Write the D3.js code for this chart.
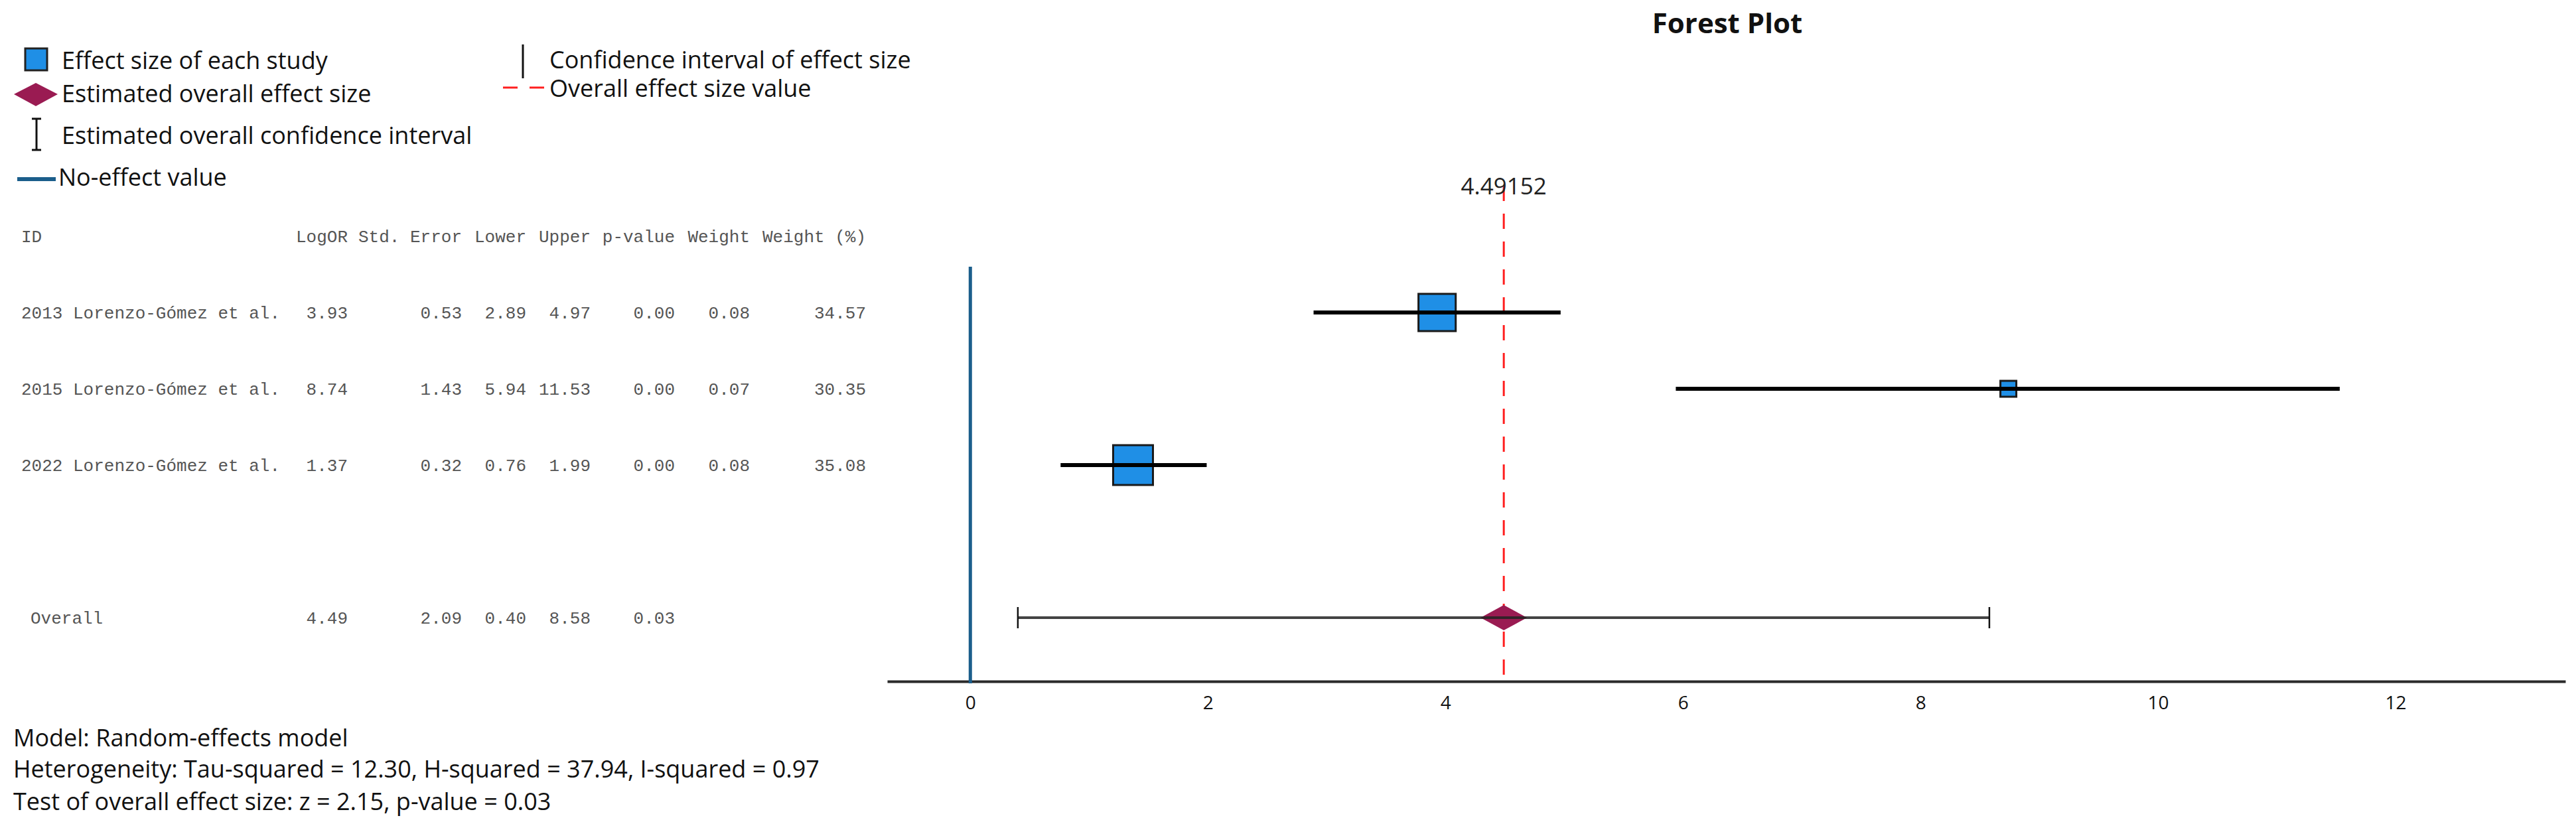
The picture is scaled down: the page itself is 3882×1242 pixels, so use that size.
<!DOCTYPE html>
<html>
<head>
<meta charset="utf-8">
<script src="https://cdn.jsdelivr.net/npm/d3@7/dist/d3.min.js"></script>
<style>
html,body{margin:0;padding:0;background:#fff;}
svg{display:block;}
</style>
</head>
<body>
<script>
// ---------------- data ----------------
const studies = ["2013 Lorenzo-Gómez et al.", "2015 Lorenzo-Gómez et al.", "2022 Lorenzo-Gómez et al."];
const logOR = [3.93, 8.74, 1.37];
const stdError = [0.53, 1.43, 0.32];
const lowerCI = [2.89, 5.94, 0.76];
const upperCI = [4.97, 11.53, 1.99];
const pValues = [0.00, 0.00, 0.00];
const weights = [0.08, 0.07, 0.08];
const weightPct = [34.57, 30.35, 35.08];
const overallLabel = "Overall";
const overallValues = [4.49, 2.09, 0.40, 8.58, 0.03]; // LogOR, SE, Lower, Upper, p
const overallEstimate = 4.49152;
const columnHeaders = ["LogOR", "Std. Error", "Lower", "Upper", "p-value", "Weight", "Weight (%)"];
const xTicks = [0, 2, 4, 6, 8, 10, 12];
const xDomain = [-0.7, 13.43];
const noEffectValue = 0;
const legendLeft = ["Effect size of each study", "Estimated overall effect size", "Estimated overall confidence interval", "No-effect value"];
const legendRight = ["Confidence interval of effect size", "Overall effect size value"];
const summaryLines = [
  "Model: Random-effects model",
  "Heterogeneity: Tau-squared = 12.30, H-squared = 37.94, I-squared = 0.97",
  "Test of overall effect size: z = 2.15, p-value = 0.03"
];
const titleText = "Forest Plot";

// ---------------- layout ----------------
const W = 3882, H = 1242;
const sans = "'Open Sans', 'Noto Sans', sans-serif";
const mono = "'Liberation Mono', 'DejaVu Sans Mono', monospace";
const svg = d3.select("body").append("svg").attr("width", W).attr("height", H);
svg.append("rect").attr("width", W).attr("height", H).attr("fill", "#fff");

const x = d3.scaleLinear().domain(xDomain).range([1337, 3866]);
const y = d3.scaleLinear().domain([0, 4]).range([471, 931]); // row slots: 3 studies, gap, overall
const axisY = 1027;
const sizeScale = d3.scaleLinear().domain(d3.extent(weightPct)).range([24, 60]);

const blue = "#1f8fe6", maroon = "#9a1b52", noEffectColor = "#1b5e8b", red = "#ff1f1f";

// ---------------- title ----------------
svg.append("text").attr("x", 2603).attr("y", 50).attr("text-anchor", "middle")
  .attr("font-family", sans).attr("font-weight", 700).attr("font-size", 42).attr("fill", "#111")
  .text(titleText);

// ---------------- legend ----------------
const lg = svg.append("g").attr("font-family", sans).attr("font-size", 36).attr("fill", "#111");
lg.append("rect").attr("x", 38).attr("y", 73).attr("width", 33).attr("height", 33)
  .attr("fill", blue).attr("stroke", "#222").attr("stroke-width", 3);
lg.append("path").attr("d", "M21,142 L54,125 L87,142 L54,160 Z").attr("fill", maroon);
lg.append("path").attr("d", "M48,179 H62 M55,179 V226 M48,226 H62").attr("stroke", "#111").attr("stroke-width", 3).attr("fill", "none");
lg.append("line").attr("x1", 26).attr("x2", 84).attr("y1", 270).attr("y2", 270).attr("stroke", noEffectColor).attr("stroke-width", 6);
const leftBase = [104, 154, 217, 280];
const leftX = [93, 93, 93, 88];
lg.selectAll("text.ll").data(legendLeft).join("text").attr("class", "ll")
  .attr("x", (d, i) => leftX[i]).attr("y", (d, i) => leftBase[i]).text(d => d);
lg.append("line").attr("x1", 788).attr("x2", 788).attr("y1", 67).attr("y2", 118).attr("stroke", "#111").attr("stroke-width", 3);
lg.append("line").attr("x1", 758).attr("x2", 820).attr("y1", 132).attr("y2", 132).attr("stroke", red).attr("stroke-width", 3).attr("stroke-dasharray", "22,18");
const rightBase = [103, 146];
lg.selectAll("text.rl").data(legendRight).join("text").attr("class", "rl")
  .attr("x", 828).attr("y", (d, i) => rightBase[i]).text(d => d);

// ---------------- table ----------------
const tg = svg.append("g").attr("font-family", mono).attr("font-size", 26).attr("fill", "#555");
const colRight = [524, 696, 793, 890, 1017, 1130, 1305];
const headerY = y(-1) + 9;
tg.append("text").attr("x", 32).attr("y", headerY).text("ID");
tg.selectAll("text.hdr").data(columnHeaders).join("text").attr("class", "hdr")
  .attr("x", (d, i) => colRight[i]).attr("y", headerY).attr("text-anchor", "end").text(d => d);

const rows = studies.map((s, i) => ({
  label: s, cells: [logOR[i], stdError[i], lowerCI[i], upperCI[i], pValues[i], weights[i], weightPct[i]].map(v => v.toFixed(2)), idx: i
}));
rows.forEach(r => {
  const ty = y(r.idx) + 9;
  tg.append("text").attr("x", 32).attr("y", ty).text(r.label);
  tg.selectAll(null).data(r.cells).join("text")
    .attr("x", (d, i) => colRight[i]).attr("y", ty).attr("text-anchor", "end").text(d => d);
});
const oy = y(4) + 9;
tg.append("text").attr("x", 46).attr("y", oy).text(overallLabel);
tg.selectAll(null).data(overallValues.map(v => v.toFixed(2))).join("text")
  .attr("x", (d, i) => colRight[i]).attr("y", oy).attr("text-anchor", "end").text(d => d);

// ---------------- summary ----------------
const sg = svg.append("g").attr("font-family", sans).attr("font-size", 36).attr("fill", "#111");
const sumBase = [1125, 1172, 1221];
sg.selectAll("text").data(summaryLines).join("text")
  .attr("x", 20).attr("y", (d, i) => sumBase[i]).text(d => d);

// ---------------- plot ----------------
const pg = svg.append("g");

// overall effect dashed line (drawn beneath marks)
pg.append("line").attr("x1", x(overallEstimate)).attr("x2", x(overallEstimate))
  .attr("y1", 280).attr("y2", axisY).attr("stroke", red).attr("stroke-width", 3)
  .attr("stroke-dasharray", "23,19");
pg.append("text").attr("x", x(overallEstimate)).attr("y", 293).attr("text-anchor", "middle")
  .attr("font-family", sans).attr("font-size", 35).attr("fill", "#222").text(String(overallEstimate));

// x axis
const axis = d3.axisBottom(x).tickValues(xTicks).tickSize(0).tickPadding(22).tickFormat(d3.format("d"));
const ag = pg.append("g").attr("transform", `translate(0,${axisY})`).call(axis);
ag.select(".domain").attr("stroke", "#2a2a2a").attr("stroke-width", 4);
ag.selectAll(".tick text").attr("font-family", sans).attr("font-size", 28).attr("fill", "#111");

// no-effect line
pg.append("line").attr("x1", x(noEffectValue)).attr("x2", x(noEffectValue))
  .attr("y1", 402).attr("y2", axisY + 3).attr("stroke", noEffectColor).attr("stroke-width", 5);

// study squares
pg.selectAll("rect.study").data(rows).join("rect").attr("class", "study")
  .attr("x", d => x(logOR[d.idx]) - sizeScale(weightPct[d.idx]) / 2)
  .attr("y", d => y(d.idx) - sizeScale(weightPct[d.idx]) / 2)
  .attr("width", d => sizeScale(weightPct[d.idx]))
  .attr("height", d => sizeScale(weightPct[d.idx]))
  .attr("fill", blue).attr("stroke", "#1a1a1a").attr("stroke-width", 3);

// study CIs
pg.selectAll("line.ci").data(rows).join("line").attr("class", "ci")
  .attr("x1", d => x(lowerCI[d.idx])).attr("x2", d => x(upperCI[d.idx]))
  .attr("y1", d => y(d.idx)).attr("y2", d => y(d.idx))
  .attr("stroke", "#000").attr("stroke-width", 6);

// overall diamond
const oyc = y(4), ox = x(overallEstimate);
pg.append("path").attr("d", `M${ox - 35},${oyc} L${ox},${oyc - 19} L${ox + 35},${oyc} L${ox},${oyc + 19} Z`).attr("fill", maroon);
// overall CI
pg.append("line").attr("x1", x(overallValues[2])).attr("x2", x(overallValues[3]))
  .attr("y1", oyc).attr("y2", oyc).attr("stroke", "#222").attr("stroke-opacity", 0.85).attr("stroke-width", 4);
[overallValues[2], overallValues[3]].forEach(v => {
  pg.append("line").attr("x1", x(v)).attr("x2", x(v)).attr("y1", oyc - 16).attr("y2", oyc + 16)
    .attr("stroke", "#111").attr("stroke-width", 2.5);
});
</script>
</body>
</html>
